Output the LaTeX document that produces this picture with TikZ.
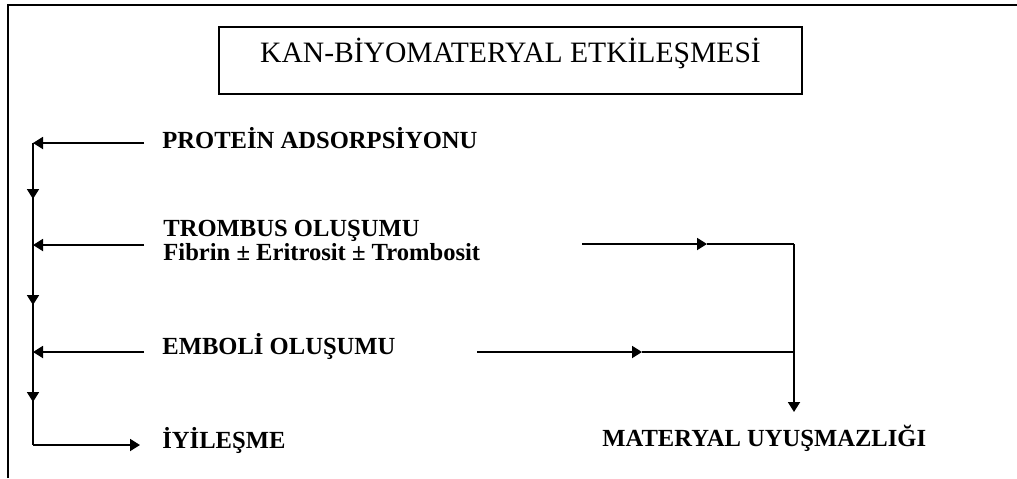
\documentclass[tikz,border=0pt]{standalone}
\usepackage{fontspec}
\setmainfont{Liberation Serif}
\usetikzlibrary{arrows.meta, positioning}

\begin{document}
\begin{tikzpicture}[x=0.5pt, y=-0.5pt,
                titlebox/.style={rectangle,
                draw,
                line width=0.9pt,
                minimum width=291.5pt,
                minimum height=33.5pt,
                text height=0.8em,
                text depth=0.58em,
                font=\fontsize{14.8}{17}\selectfont},
                lbl/.style={anchor=base west,
                inner sep=0pt,
                font=\bfseries\fontsize{12.3}{14.5}\selectfont},
                arr/.style={-{Triangle[length=5pt, width=6pt]}, line width=0.9pt},
                thinline/.style={line width=0.6pt}]
                \useasboundingbox (0,0) rectangle (1017,478);
                % frame
                \draw[line width=1pt] (8,478) -- (8,5) -- (1017,5);
                \node[titlebox] (title) at (510.5,60.5) {KAN-BİYOMATERYAL ETKİLEŞMESİ};
                % labels
                \node[lbl] (prot) at (162,148) {PROTEİN ADSORPSİYONU};
                \node[lbl] (tromb) at (163,236) {TROMBUS OLUŞUMU};
                \node[lbl] (fibrin) at (163,260) {Fibrin ± Eritrosit ± Trombosit};
                \node[lbl] (embol) at (162,354) {EMBOLİ OLUŞUMU};
                \node[lbl] (iyi) at (162,448) {İYİLEŞME};
                \node[lbl] (mater) at (602,446) {MATERYAL UYUŞMAZLIĞI};
                % left side
                \coordinate (protR) at (144,143);
                \coordinate (protL) at (33,143);
                \coordinate (trombR) at (144,245);
                \coordinate (trombL) at (33,245);
                \coordinate (embolR) at (144,352);
                \coordinate (embolL) at (33,352);
                \coordinate (down1) at (33,199);
                \coordinate (down2) at (33,305);
                \coordinate (down3) at (33,402);
                \coordinate (iyiL) at (33,445);
                \coordinate (iyiR) at (140,445);
                \draw[thinline] (protL)--(iyiL);
                \draw[arr] (protR)--(protL);
                \draw[arr] (trombR)--(trombL);
                \draw[arr] (embolR)--(embolL);
                \draw[arr] (protL)--(down1);
                \draw[arr] (trombL)--(down2);
                \draw[arr] (embolL)--(down3);
                \draw[arr] (iyiL)--(iyiR);
                % right side
                \coordinate (trombE) at (582,244);
                \coordinate (trombM) at (707,244);
                \coordinate (corner1) at (794,244);
                \coordinate (embolE) at (477,352);
                \coordinate (embolM) at (642,352);
                \coordinate (corner2) at (794,352);
                \coordinate (materN) at (794,412);
                \draw[arr] (trombE)--(trombM);
                \draw[thinline] (trombM)--(corner1);
                \draw[arr] (embolE)--(embolM);
                \draw[thinline] (embolM)--(corner2);
                \draw[arr] (corner1)--(materN);
            \end{tikzpicture}
\end{document}
